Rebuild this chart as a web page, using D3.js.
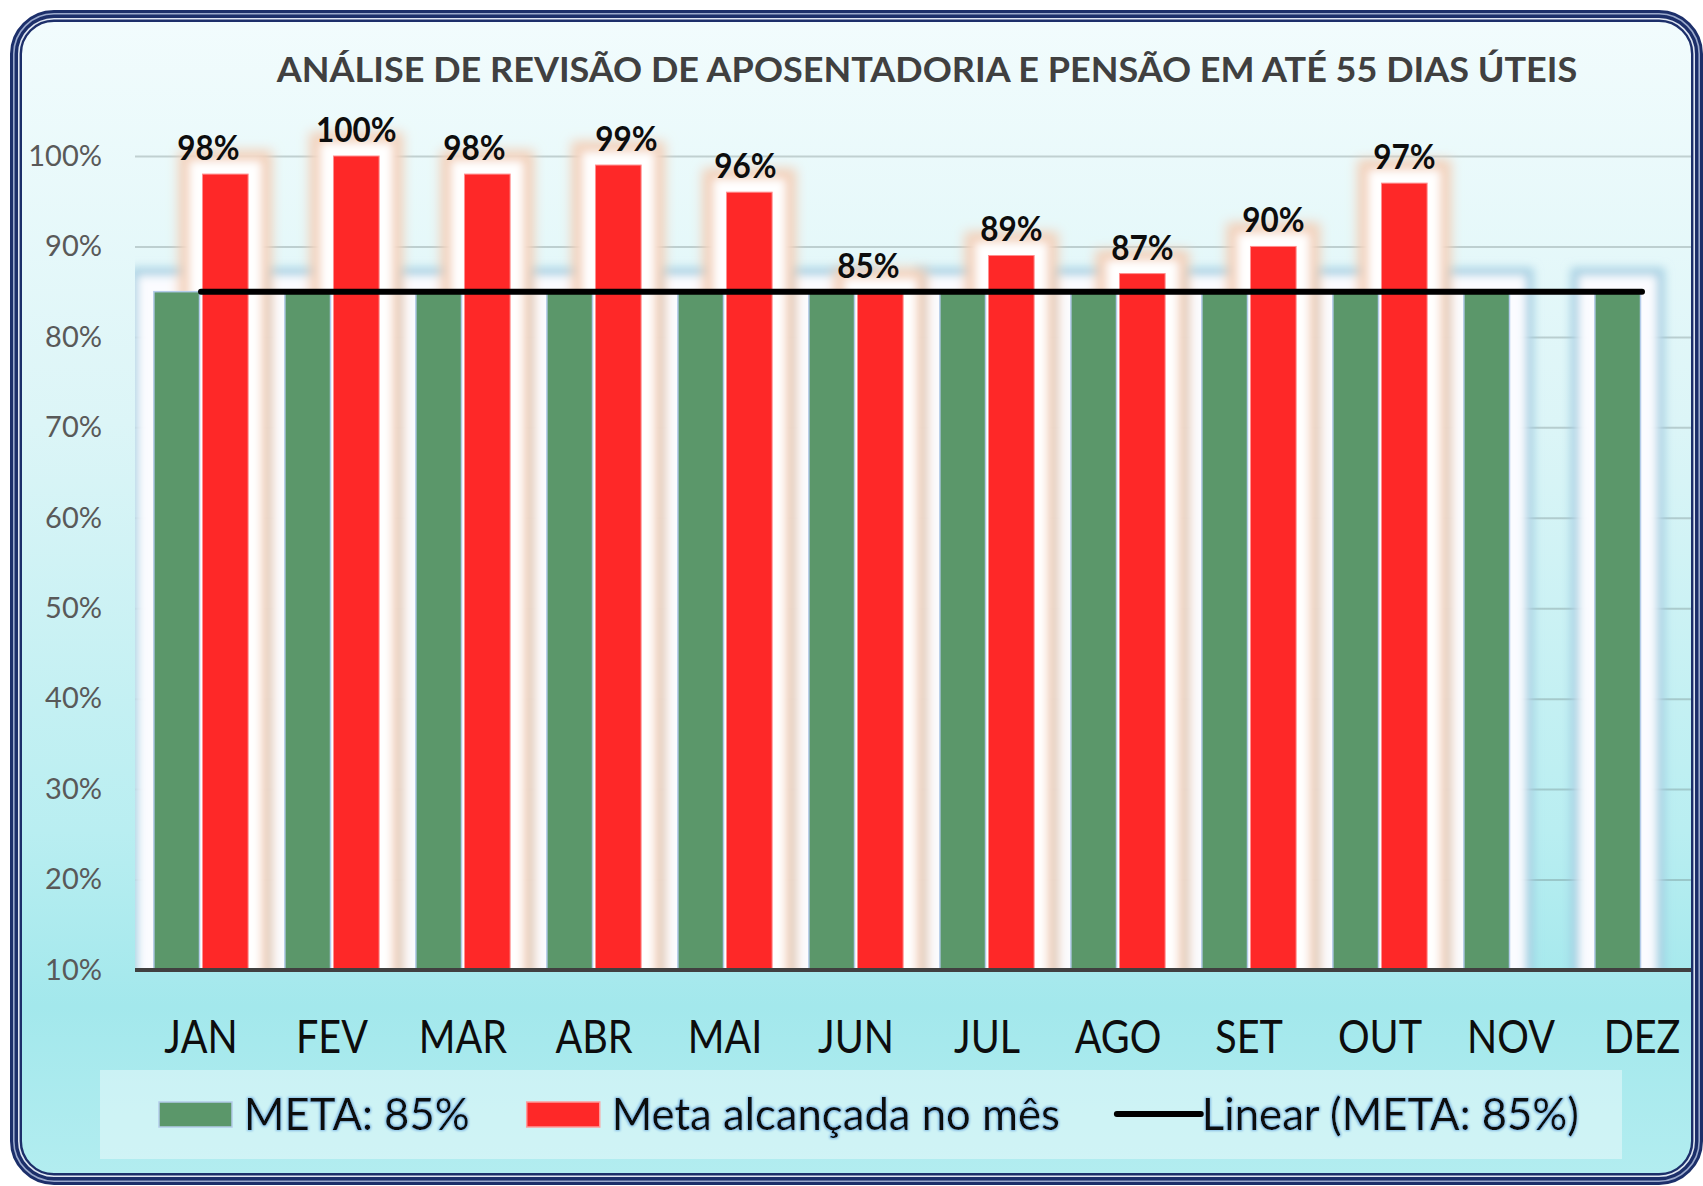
<!DOCTYPE html>
<html>
<head>
<meta charset="utf-8">
<script src="https://d3js.org/d3.v7.min.js"></script>
<style>
  body { margin: 0; background: #fff; }
  text { font-family: Lato, "Open Sans", sans-serif; }
</style>
</head>
<body>
<script>
// data
var months = ["JAN", "FEV", "MAR", "ABR", "MAI", "JUN", "JUL", "AGO", "SET", "OUT", "NOV", "DEZ"];
var meta = [85, 85, 85, 85, 85, 85, 85, 85, 85, 85, 85, 85];
var alcancada = [98, 100, 98, 99, 96, 85, 89, 87, 90, 97, null, null];
var yTicks = [10, 20, 30, 40, 50, 60, 70, 80, 90, 100];
var title = "ANÁLISE DE REVISÃO DE APOSENTADORIA E PENSÃO EM ATÉ 55 DIAS ÚTEIS";
var legendLabels = ["META: 85%", "Meta alcançada no mês", "Linear (META: 85%)"];
// label nudges as placed by hand in the original
var labelNudge = [-17, 0, -13, 8, -4, -12, 0, 0, 0, 0, 0, 0];

var W = 1703, H = 1186;
var green = "#5b976a", red = "#fe2828";

var rows = months.map(function (m, i) {
    return { m: m, meta: meta[i], real: alcancada[i], nudge: labelNudge[i] };
});

var svg = d3.select("body").append("svg")
    .attr("width", W)
    .attr("height", H);
var defs = svg.append("defs");

// background gradient
var grad = defs.append("linearGradient").attr("id", "bg")
    .attr("x1", 0).attr("y1", 0).attr("x2", 0).attr("y2", 1);
[[0, "#f2fcfd"], [0.35, "#dcf5f7"], [0.7, "#b9eef1"], [0.85, "#a3e8ec"], [1, "#b3edf0"]]
    .forEach(function (s) { grad.append("stop").attr("offset", s[0]).attr("stop-color", s[1]); });

// frame box
var bx = 10, by = 10, bw = 1693, bh = 1175, br = 44;

defs.append("clipPath").attr("id", "inner").append("rect")
    .attr("x", bx + 10).attr("y", by + 10).attr("width", bw - 20).attr("height", bh - 20).attr("rx", br - 10);
defs.append("clipPath").attr("id", "plotClip").append("rect")
    .attr("x", 135).attr("y", 100).attr("width", 1560).attr("height", 870);

function glow(id, layers) {
    var f = defs.append("filter").attr("id", id)
        .attr("filterUnits", "userSpaceOnUse")
        .attr("x", 0).attr("y", 0).attr("width", W).attr("height", H);
    var merge = [];
    layers.forEach(function (l, i) {
        f.append("feMorphology").attr("in", "SourceAlpha").attr("operator", "dilate")
            .attr("radius", l.r).attr("result", "d" + i);
        f.append("feGaussianBlur").attr("in", "d" + i).attr("stdDeviation", l.blur).attr("result", "b" + i);
        f.append("feFlood").attr("flood-color", l.color).attr("flood-opacity", l.op).attr("result", "c" + i);
        f.append("feComposite").attr("in", "c" + i).attr("in2", "b" + i).attr("operator", "in").attr("result", "g" + i);
        merge.push("g" + i);
    });
    var m = f.append("feMerge");
    merge.forEach(function (n) { m.append("feMergeNode").attr("in", n); });
    return f;
}
glow("greenGlow", [
    { r: 24, blur: 5, color: "#9cc9df", op: 0.85 },
    { r: 16, blur: 4, color: "#fbfcff", op: 1 }
]);
glow("redGlow", [
    { r: 24, blur: 6, color: "#f3d0b9", op: 1 },
    { r: 13, blur: 4, color: "#ffffff", op: 1 }
]);
var halo = defs.append("filter").attr("id", "halo")
    .attr("x", "-5%").attr("y", "-30%").attr("width", "110%").attr("height", "160%");
halo.append("feMorphology").attr("in", "SourceAlpha").attr("operator", "dilate").attr("radius", 1.2).attr("result", "d");
halo.append("feGaussianBlur").attr("in", "d").attr("stdDeviation", 1.2).attr("result", "b");
halo.append("feFlood").attr("flood-color", "#86bde6").attr("result", "c");
halo.append("feComposite").attr("in", "c").attr("in2", "b").attr("operator", "in").attr("result", "h");
var hm = halo.append("feMerge");
hm.append("feMergeNode").attr("in", "h");
hm.append("feMergeNode").attr("in", "SourceGraphic");

// background
svg.append("rect")
    .attr("x", bx + 4).attr("y", by + 4).attr("width", bw - 8).attr("height", bh - 8).attr("rx", br - 4)
    .attr("fill", "url(#bg)");

var chart = svg.append("g").attr("clip-path", "url(#inner)");

// scales
var x = d3.scaleBand().domain(months).range([135.5, 135.5 + 131 * 12]).padding(0);
var xs = d3.scaleBand().domain(["meta", "real"]).range([0, x.bandwidth()])
    .paddingInner(0.0612).paddingOuter(0.378);
var y = d3.scaleLinear().domain([10, 100]).range([970, 156]);

// gridlines
chart.append("g")
    .attr("transform", "translate(135,0)")
    .call(d3.axisRight(y).tickValues(yTicks.slice(1)).tickSize(1600).tickFormat(""))
    .call(function (g) { g.select(".domain").remove(); })
    .selectAll("line")
    .attr("stroke", "#5f6f72").attr("stroke-opacity", 0.3).attr("stroke-width", 2);

// y labels
svg.append("g")
    .attr("transform", "translate(135,0)")
    .call(d3.axisLeft(y).tickValues(yTicks).tickSize(0).tickPadding(33).tickFormat(function (d) { return d + "%"; }))
    .call(function (g) { g.select(".domain").remove(); })
    .selectAll("text")
    .attr("font-size", 29).attr("fill", "#595959").attr("font-family", "Lato, sans-serif");

var plot = chart.append("g").attr("clip-path", "url(#plotClip)");

// glows
plot.append("g").attr("filter", "url(#greenGlow)")
    .selectAll("rect").data(rows).join("rect")
    .attr("x", function (d) { return x(d.m) + xs("meta"); })
    .attr("y", function (d) { return y(d.meta); })
    .attr("width", xs.bandwidth())
    .attr("height", function (d) { return y(10) - y(d.meta); })
    .attr("fill", "#000");
plot.append("g").attr("filter", "url(#redGlow)")
    .selectAll("rect").data(rows.filter(function (d) { return d.real != null; })).join("rect")
    .attr("x", function (d) { return x(d.m) + xs("real"); })
    .attr("y", function (d) { return y(d.real); })
    .attr("width", xs.bandwidth())
    .attr("height", function (d) { return y(10) - y(d.real); })
    .attr("fill", "#000");

// bars
plot.append("g").selectAll("rect").data(rows).join("rect")
    .attr("x", function (d) { return x(d.m) + xs("meta"); })
    .attr("y", function (d) { return y(d.meta); })
    .attr("width", xs.bandwidth())
    .attr("height", function (d) { return y(10) - y(d.meta); })
    .attr("fill", green)
    .attr("stroke", "#b3cbe9").attr("stroke-width", 1.5);
plot.append("g").selectAll("rect").data(rows.filter(function (d) { return d.real != null; })).join("rect")
    .attr("x", function (d) { return x(d.m) + xs("real"); })
    .attr("y", function (d) { return y(d.real); })
    .attr("width", xs.bandwidth())
    .attr("height", function (d) { return y(10) - y(d.real); })
    .attr("fill", red)
    .attr("stroke", "#ff8f8f").attr("stroke-width", 1);

// baseline
chart.append("line")
    .attr("x1", 135).attr("x2", W).attr("y1", y(10)).attr("y2", y(10))
    .attr("stroke", "#404040").attr("stroke-width", 4);

// trendline
chart.append("path")
    .datum(rows)
    .attr("d", d3.line()
        .x(function (d) { return x(d.m) + x.bandwidth() / 2; })
        .y(function (d) { return y(d.meta); }))
    .attr("fill", "none").attr("stroke", "#000").attr("stroke-width", 6)
    .attr("stroke-linecap", "round");

// data labels
svg.append("g").selectAll("text")
    .data(rows.filter(function (d) { return d.real != null; })).join("text")
    .attr("transform", function (d) {
        return "translate(" + (x(d.m) + xs("real") + xs.bandwidth() / 2 + d.nudge) + "," + (y(d.real) - 14) + ") scale(0.9,1)";
    })
    .attr("text-anchor", "middle")
    .attr("font-size", 35).attr("font-weight", 700).attr("fill", "#0d0d0d")
    .text(function (d) { return d.real + "%"; });

// month labels
svg.append("g")
    .attr("transform", "translate(0," + y(10) + ")")
    .call(d3.axisBottom(x).tickSize(0).tickPadding(50))
    .call(function (g) { g.select(".domain").remove(); })
    .selectAll("text")
    .attr("font-size", 46).attr("fill", "#0d0d0d").attr("font-family", "Lato, sans-serif")
    .attr("transform", "scale(0.86,1)");

// title
svg.append("text")
    .attr("transform", "translate(927,82) scale(1.06,1)")
    .attr("text-anchor", "middle")
    .attr("font-size", 34).attr("font-weight", 700).attr("fill", "#404040")
    .text(title);

// legend
svg.append("rect")
    .attr("x", 100).attr("y", 1070).attr("width", 1522).attr("height", 89)
    .attr("fill", "#fff").attr("fill-opacity", 0.4);

var lg = svg.append("g");
var lx = 159, sx = 0.97, baseY = 1130;
legendLabels.forEach(function (lab, i) {
    if (i < 2) {
        lg.append("rect")
            .attr("x", lx).attr("y", 1102).attr("width", 73).attr("height", 25)
            .attr("fill", i === 0 ? green : red)
            .attr("stroke", i === 0 ? "#b3cbe9" : "#ff9a9a").attr("stroke-width", 1.5);
        lx += 73 + 12;
    } else {
        lg.append("line")
            .attr("x1", lx).attr("x2", lx + 84).attr("y1", 1114).attr("y2", 1114)
            .attr("stroke", "#000").attr("stroke-width", 6).attr("stroke-linecap", "round");
        lx += 85;
    }
    var t = lg.append("text")
        .attr("transform", "translate(" + lx + "," + baseY + ") scale(" + sx + ",1)")
        .attr("font-size", 45).attr("fill", "#0d0d0d")
        .attr("filter", "url(#halo)")
        .text(lab);
    lx += t.node().getComputedTextLength() * sx + 57;
});

// frame
function ring(inset, width, color) {
    svg.append("rect")
        .attr("x", bx + inset).attr("y", by + inset)
        .attr("width", bw - 2 * inset).attr("height", bh - 2 * inset)
        .attr("rx", br - inset)
        .attr("fill", "none").attr("stroke", color).attr("stroke-width", width);
}
ring(6, 12, "#1c2f6a");
ring(3.8, 1.6, "#9aa9cc");
ring(8.8, 1.6, "#dfe6f2");
</script>
</body>
</html>
